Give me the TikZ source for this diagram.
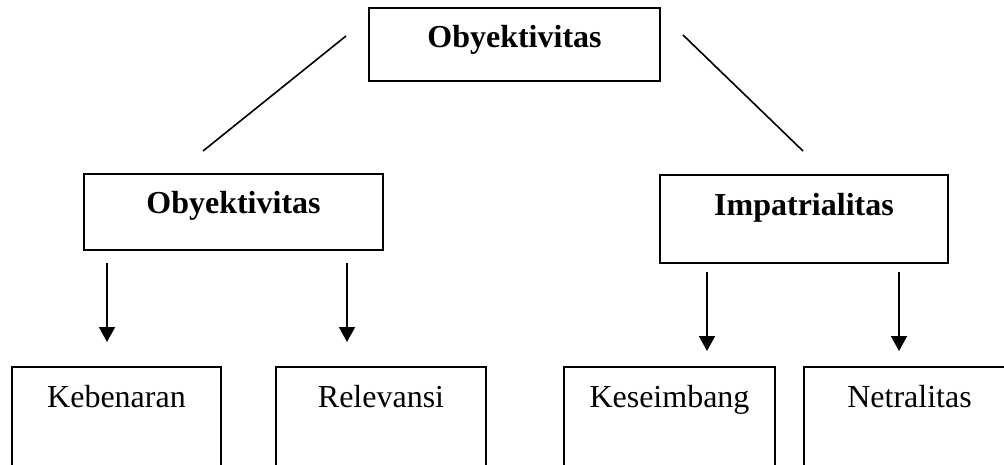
\documentclass[tikz,border=0pt]{standalone}
\usepackage{fontspec}
\setmainfont{Liberation Serif}
\usetikzlibrary{arrows.meta}
\tikzset{
  box/.style={draw, line width=2pt, rectangle, inner sep=0pt, anchor=north west, align=center,
              font=\fontsize{32}{38}\selectfont},
  boldbox/.style={box, font=\fontsize{32}{38}\selectfont\bfseries},
  diag/.style={line width=1.6pt},
  arr/.style={line width=2pt, -{Triangle[width=16pt,length=15pt]}}
}
\begin{document}
\begin{tikzpicture}[x=1pt,y=-1pt]
\useasboundingbox (0,0) rectangle (1004,465);
\clip (0,0) rectangle (1004,465);
% top
\node[boldbox, minimum width=291pt, text height=40pt, text depth=33pt] (top) at (368,7) {Obyektivitas};
% middle
\node[boldbox, minimum width=299pt, text height=40pt, text depth=36pt] (midl) at (83,173) {Obyektivitas};
\node[boldbox, minimum width=288pt, text height=41pt, text depth=47pt] (midr) at (659,174) {Impatrialitas};
% bottom
\node[box, minimum width=209pt, text height=40pt, text depth=80pt] (b1) at (11,366) {Kebenaran};
\node[box, minimum width=210pt, text height=40pt, text depth=80pt] (b2) at (275,366) {Relevansi};
\node[box, minimum width=211pt, text height=40pt, text depth=80pt] (b3) at (563,366) {Keseimbang};
\node[box, minimum width=211pt, text height=40pt, text depth=80pt] (b4) at (803,366) {Netralitas};
% diagonal connectors
\coordinate (l1) at (346,36);
\coordinate (l2) at (203,151);
\coordinate (r1) at (683,35);
\coordinate (r2) at (803,151);
\draw[diag] (l1) -- (l2);
\draw[diag] (r1) -- (r2);
% arrows
\coordinate (a1s) at (107,263); \coordinate (a1e) at (107,342);
\coordinate (a2s) at (347,263); \coordinate (a2e) at (347,342);
\coordinate (a3s) at (707,272); \coordinate (a3e) at (707,351);
\coordinate (a4s) at (899,272); \coordinate (a4e) at (899,351);
\draw[arr] (a1s) -- (a1e);
\draw[arr] (a2s) -- (a2e);
\draw[arr] (a3s) -- (a3e);
\draw[arr] (a4s) -- (a4e);
\end{tikzpicture}
\end{document}
